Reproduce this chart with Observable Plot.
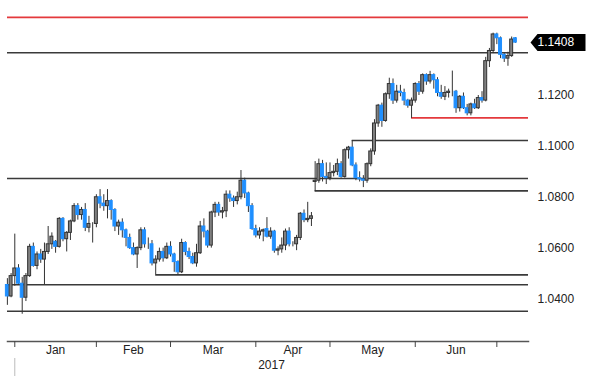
<!DOCTYPE html>
<html>
<head>
<meta charset="utf-8">
<script src="https://cdn.jsdelivr.net/npm/d3@7"></script>
<script src="https://cdn.jsdelivr.net/npm/@observablehq/plot@0.6"></script>
<style>
  html, body { margin: 0; padding: 0; background: #fff; }
  #chart { width: 600px; height: 384px; }
</style>
</head>
<body>
<div id="chart"></div>
<script>
// Trading days: 28 Dec 2016 .. 7 Jul 2017 (weekdays)
const firstDay = "2016-12-28";
const lastDay = "2017-07-07";

const open = [
  1.0455, 1.0410, 1.0490,
  1.0520, 1.0460, 1.0405, 1.0490, 1.0605, 1.0530, 1.0575, 1.0555, 1.0585, 1.0615, 1.0625, 1.0605, 1.0715, 1.0635, 1.0660, 1.0705, 1.0765, 1.0730, 1.0750, 1.0680, 1.0695, 1.0695,
  1.0800, 1.0775, 1.0765, 1.0785, 1.0750, 1.0685, 1.0700, 1.0670, 1.0640, 1.0600, 1.0575, 1.0600, 1.0670, 1.0615, 1.0615, 1.0540, 1.0555, 1.0585, 1.0560, 1.0605,
  1.0575, 1.0545, 1.0505, 1.0620, 1.0585, 1.0565, 1.0540, 1.0580, 1.0685, 1.0665, 1.0610, 1.0740, 1.0770, 1.0740, 1.0745, 1.0810, 1.0795, 1.0785, 1.0800, 1.0865, 1.0815, 1.0765, 1.0675,
  1.0650, 1.0665, 1.0675, 1.0645, 1.0665, 1.0590, 1.0595, 1.0610, 1.0665, 1.0615, 1.0615, 1.0640, 1.0735, 1.0710, 1.0715, 1.0860, 1.0865, 1.0930, 1.0880, 1.0875,
  1.0895, 1.0900, 1.0930, 1.0880, 1.0985, 1.0995, 1.0925, 1.0875, 1.0870, 1.0865, 1.0930, 1.0980, 1.1090, 1.1160, 1.1100, 1.1205, 1.1245, 1.1180, 1.1215, 1.1210, 1.1180, 1.1160, 1.1180,
  1.1245, 1.1215, 1.1280, 1.1255, 1.1280, 1.1260, 1.1210, 1.1195, 1.1210, 1.1215, 1.1215, 1.1150, 1.1195, 1.1150, 1.1130, 1.1165, 1.1150, 1.1190, 1.1180, 1.1335, 1.1375, 1.1440,
  1.1425, 1.1360, 1.1345, 1.1355, 1.1425
];
const high = [
  1.0480, 1.0500, 1.0655,
  1.0535, 1.0485, 1.0500, 1.0615, 1.0620, 1.0585, 1.0595, 1.0620, 1.0685, 1.0660, 1.0630, 1.0720, 1.0720, 1.0665, 1.0710, 1.0775, 1.0775, 1.0760, 1.0775, 1.0725, 1.0700, 1.0810,
  1.0830, 1.0810, 1.0830, 1.0790, 1.0755, 1.0710, 1.0715, 1.0675, 1.0655, 1.0620, 1.0605, 1.0680, 1.0680, 1.0640, 1.0630, 1.0570, 1.0600, 1.0600, 1.0620, 1.0625,
  1.0580, 1.0550, 1.0635, 1.0625, 1.0600, 1.0580, 1.0615, 1.0705, 1.0715, 1.0670, 1.0745, 1.0780, 1.0780, 1.0760, 1.0825, 1.0825, 1.0805, 1.0820, 1.0905, 1.0875, 1.0820, 1.0775, 1.0690,
  1.0680, 1.0675, 1.0720, 1.0680, 1.0670, 1.0605, 1.0640, 1.0675, 1.0680, 1.0625, 1.0650, 1.0740, 1.0750, 1.0780, 1.0740, 1.0940, 1.0950, 1.0945, 1.0935, 1.0935,
  1.0925, 1.0950, 1.0940, 1.0990, 1.1000, 1.1023, 1.0935, 1.0900, 1.0885, 1.0935, 1.0990, 1.1105, 1.1165, 1.1170, 1.1210, 1.1268, 1.1265, 1.1240, 1.1240, 1.1225, 1.1185, 1.1190, 1.1250,
  1.1255, 1.1285, 1.1285, 1.1295, 1.1285, 1.1270, 1.1240, 1.1235, 1.1225, 1.1296, 1.1220, 1.1200, 1.1210, 1.1165, 1.1170, 1.1185, 1.1200, 1.1215, 1.1350, 1.1385, 1.1445, 1.1445,
  1.1430, 1.1365, 1.1370, 1.1430, 1.1428
];
const low = [
  1.0375, 1.0405, 1.0450,
  1.0455, 1.0340, 1.0390, 1.0485, 1.0525, 1.0515, 1.0540, 1.0455, 1.0575, 1.0595, 1.0580, 1.0600, 1.0625, 1.0585, 1.0630, 1.0700, 1.0710, 1.0710, 1.0665, 1.0660, 1.0620, 1.0680,
  1.0755, 1.0745, 1.0715, 1.0710, 1.0665, 1.0650, 1.0640, 1.0605, 1.0595, 1.0570, 1.0520, 1.0590, 1.0600, 1.0595, 1.0530, 1.0495, 1.0545, 1.0545, 1.0555, 1.0565,
  1.0505, 1.0495, 1.0500, 1.0570, 1.0555, 1.0535, 1.0525, 1.0575, 1.0640, 1.0600, 1.0600, 1.0720, 1.0725, 1.0715, 1.0720, 1.0780, 1.0760, 1.0770, 1.0790, 1.0795, 1.0740, 1.0670, 1.0640,
  1.0635, 1.0625, 1.0640, 1.0635, 1.0580, 1.0570, 1.0580, 1.0590, 1.0605, 1.0605, 1.0590, 1.0630, 1.0700, 1.0700, 1.0685, 1.0822, 1.0855, 1.0860, 1.0850, 1.0865,
  1.0880, 1.0885, 1.0875, 1.0875, 1.0950, 1.0920, 1.0865, 1.0860, 1.0838, 1.0855, 1.0920, 1.0965, 1.1075, 1.1075, 1.1095, 1.1185, 1.1165, 1.1170, 1.1195, 1.1160, 1.1150, 1.1110, 1.1170,
  1.1200, 1.1205, 1.1240, 1.1245, 1.1225, 1.1195, 1.1185, 1.1180, 1.1190, 1.1195, 1.1130, 1.1135, 1.1145, 1.1120, 1.1120, 1.1145, 1.1145, 1.1170, 1.1175, 1.1310, 1.1365, 1.1400,
  1.1345, 1.1330, 1.1315, 1.1350, 1.1405
];
const close = [
  1.0410, 1.0490, 1.0520,
  1.0460, 1.0405, 1.0490, 1.0605, 1.0530, 1.0575, 1.0555, 1.0585, 1.0615, 1.0645, 1.0605, 1.0715, 1.0635, 1.0660, 1.0705, 1.0765, 1.0730, 1.0750, 1.0680, 1.0695, 1.0695, 1.0800,
  1.0775, 1.0765, 1.0785, 1.0750, 1.0685, 1.0700, 1.0670, 1.0640, 1.0600, 1.0575, 1.0600, 1.0670, 1.0615, 1.0615, 1.0540, 1.0555, 1.0585, 1.0560, 1.0605, 1.0575,
  1.0545, 1.0505, 1.0620, 1.0585, 1.0565, 1.0540, 1.0580, 1.0685, 1.0665, 1.0610, 1.0740, 1.0770, 1.0740, 1.0745, 1.0810, 1.0795, 1.0785, 1.0800, 1.0865, 1.0815, 1.0765, 1.0675, 1.0650,
  1.0665, 1.0670, 1.0645, 1.0665, 1.0590, 1.0595, 1.0610, 1.0665, 1.0615, 1.0615, 1.0640, 1.0735, 1.0710, 1.0715, 1.0725, 1.0865, 1.0930, 1.0880, 1.0875, 1.0895,
  1.0900, 1.0930, 1.0880, 1.0985, 1.0995, 1.0925, 1.0875, 1.0870, 1.0865, 1.0930, 1.0980, 1.1090, 1.1160, 1.1100, 1.1205, 1.1245, 1.1180, 1.1215, 1.1210, 1.1180, 1.1160, 1.1180, 1.1245,
  1.1215, 1.1280, 1.1255, 1.1280, 1.1260, 1.1210, 1.1195, 1.1210, 1.1215, 1.1215, 1.1150, 1.1195, 1.1150, 1.1130, 1.1165, 1.1150, 1.1190, 1.1180, 1.1335, 1.1375, 1.1440, 1.1425,
  1.1360, 1.1345, 1.1355, 1.1420, 1.1408
];

// Horizontal levels
const levelValues = [1.1507, 1.1368, 1.1112, 1.1023, 1.0874, 1.0825, 1.0495, 1.0456, 1.0352];
const levelStarts = [null, null, "2017-05-30", "2017-05-08", null, "2017-04-24", "2017-02-22", null, null];
const levelKinds  = ["alert", "level", "alert", "level", "level", "level", "level", "level", "level"];

const yTickValues = [1.04, 1.06, 1.08, 1.10, 1.12];
const yearLabel = "2017";

// ---- build
const parse = d3.utcParse("%Y-%m-%d");
const dates = d3.utcDay.range(parse(firstDay), d3.utcDay.offset(parse(lastDay), 1))
  .filter(d => d.getUTCDay() !== 0 && d.getUTCDay() !== 6);
const candles = dates.map((d, i) => ({i, date: d, o: open[i], h: high[i], l: low[i], c: close[i]}));
const idxOf = s => dates.findIndex(d => +d === +parse(s));

// month-end ticks (last trading day of each month)
const monthEnds = [];
for (let i = 0; i < dates.length - 1; i++) {
  if (dates[i].getUTCMonth() !== dates[i + 1].getUTCMonth()) monthEnds.push(i);
}
const monthLabels = [];
for (let k = 0; k < monthEnds.length - 1; k++) {
  monthLabels.push({mid: (monthEnds[k] + monthEnds[k + 1]) / 2, name: d3.utcFormat("%b")(dates[monthEnds[k] + 1])});
}

const levels = levelValues.map((v, k) => ({v, start: levelStarts[k] ? idxOf(levelStarts[k]) : null, kind: levelKinds[k]}));
const fullLevels = levels.filter(d => d.start === null);
const partLevels = levels.filter(d => d.start !== null);

const xDomain = [0.033, 140.54];
const lastClose = close[close.length - 1];
const up = d => d.c >= d.o;
const lineColor = k => k === "alert" ? "#e4393c" : "#3a3a3a";

// price tag symbol (pointing left)
const tagSymbol = {
  draw(ctx) {
    ctx.moveTo(2, 0);
    ctx.lineTo(9, -8.5);
    ctx.lineTo(57, -8.5);
    ctx.lineTo(57, 8.5);
    ctx.lineTo(9, 8.5);
    ctx.closePath();
  }
};

const chart = Plot.plot({
  width: 600,
  height: 384,
  marginLeft: 7,
  marginRight: 72,
  marginTop: 0,
  marginBottom: 43,
  style: {fontFamily: "'Liberation Sans Narrow', 'Liberation Sans', Arial, sans-serif", fontSize: "12px", color: "#222", background: "#fff"},
  x: {type: "linear", domain: xDomain},
  y: {domain: [1.02329, 1.15735]},
  marks: [
    Plot.ruleY(fullLevels, {y: "v", stroke: d => lineColor(d.kind), strokeWidth: 1.6}),
    Plot.ruleY(partLevels, {y: "v", x1: "start", x2: xDomain[1], stroke: d => lineColor(d.kind), strokeWidth: 1.6}),
    Plot.ruleX(candles, {x: "i", y1: "l", y2: "h", stroke: "#333", strokeWidth: 1}),
    Plot.rect(candles, {
      x1: d => d.i - 0.4, x2: d => d.i + 0.4, y1: "o", y2: "c",
      fill: d => up(d) ? "#808080" : "#1f8fff",
      stroke: d => up(d) ? "#333" : "#1f8fff",
      strokeWidth: 1
    }),
    Plot.frame({anchor: "bottom", stroke: "#555", strokeWidth: 1.5}),
    Plot.axisX({ticks: monthEnds, tickFormat: () => "", tickSize: 6, stroke: "#444"}),
    Plot.text(monthLabels, {x: "mid", text: "name", frameAnchor: "bottom", dy: 12, fill: "#222"}),
    Plot.text([yearLabel], {frameAnchor: "bottom", dy: 27, dx: 3.5, fill: "#222"}),
    Plot.ruleX([monthEnds[0]], {x: d => d, insetTop: 358, insetBottom: -35, stroke: "#bbb", strokeWidth: 1}),
    Plot.axisY({anchor: "right", ticks: yTickValues, tickSize: 0, tickPadding: 9, tickFormat: d3.format(".4f"), fill: "#222", fontSize: 12}),
    Plot.dot([lastClose], {y: d => d, frameAnchor: "right", symbol: tagSymbol, fill: "#000", stroke: "none"}),
    Plot.text([lastClose], {y: d => d, text: d => d3.format(".4f")(d), frameAnchor: "right", dx: 9, textAnchor: "start", fill: "#fff", fontSize: 12})
  ]
});
document.getElementById("chart").appendChild(chart);
</script>
</body>
</html>
